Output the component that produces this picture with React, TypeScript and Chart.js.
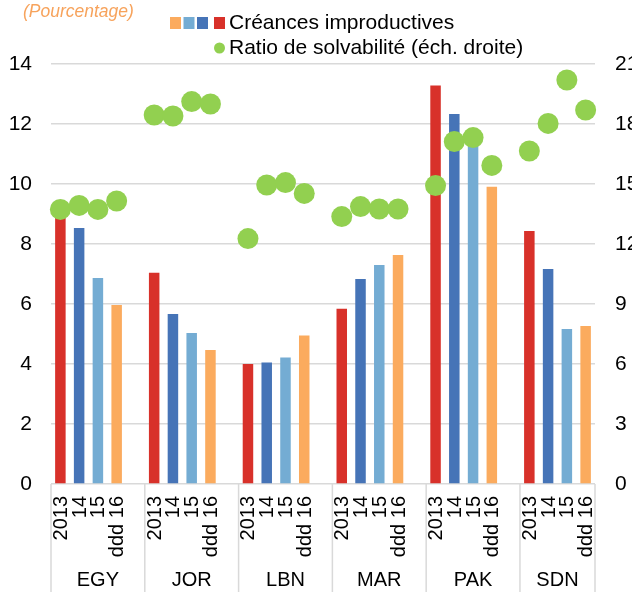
import React, { useEffect, useRef } from "react";
import { Chart, registerables } from "chart.js";

Chart.register(...registerables);

const countries = ["EGY", "JOR", "LBN", "MAR", "PAK", "SDN"];
const yearLabels = ["2013", "14", "15", "ddd 16"];

// Créances improductives (left axis, %)
const npl2013 = [9.1, 7.04, 4.0, 5.84, 13.28, 8.43];
const npl2014 = [8.53, 5.67, 4.05, 6.83, 12.33, 7.17];
const npl2015 = [6.87, 5.03, 4.22, 7.3, 11.4, 5.17];
const npl2016 = [5.97, 4.47, 4.95, 7.63, 9.91, 5.27];

// Ratio de solvabilité (right axis)
const car2013 = [13.73, 18.45, 12.27, 13.37, 14.92, 16.65];
const car2014 = [13.93, 18.4, 14.95, 13.87, 17.12, 18.03];
const car2015 = [13.73, 19.12, 15.07, 13.75, 17.32, 20.2];
const car2016 = [14.15, 19.0, 14.53, 13.75, 15.93, 18.7];

const leftTicks = { min: 0, max: 14, step: 2 };
const rightTicks = { min: 0, max: 21, step: 3 };

const yearColors = ["#D8312A", "#4674B7", "#74ACD3", "#FBAB5E"];
const pointColor = "#92D050";
const gridColor = "#D9D9D9";
const FONT = "'Liberation Sans', Arial, sans-serif";

const nplByYear = [npl2013, npl2014, npl2015, npl2016];
const carByYear = [car2013, car2014, car2015, car2016];

// Build flattened category table: 4 bars per country + a blank slot between groups
type Slot = { country: number; year: number } | null;
const slots: Slot[] = [];
countries.forEach((_, ci) => {
  for (let yi = 0; yi < yearLabels.length; yi++) slots.push({ country: ci, year: yi });
  if (ci < countries.length - 1) slots.push(null);
});
const labels = slots.map((s, i) => (s ? `${countries[s.country]} ${yearLabels[s.year]}` : `gap${i}`));
const barData = slots.map((s) => (s ? nplByYear[s.year][s.country] : null));
const pointData = slots.map((s) => (s ? carByYear[s.year][s.country] : null));
const barColors = slots.map((s) => (s ? yearColors[s.year] : "transparent"));

const decorPlugin = {
  id: "decor",
  afterDraw(chart: any) {
    const ctx = chart.ctx as CanvasRenderingContext2D;
    const x = chart.scales.x;
    const area = chart.chartArea;
    const H = chart.height;
    const step = x.getPixelForValue(1) - x.getPixelForValue(0);
    ctx.save();

    // group separators
    ctx.strokeStyle = gridColor;
    ctx.lineWidth = 1.5;
    const boundaries: number[] = [area.left];
    slots.forEach((s, i) => {
      if (s === null) boundaries.push(x.getPixelForValue(i) + step / 2);
    });
    boundaries.push(area.right);
    boundaries.forEach((bx) => {
      ctx.beginPath();
      ctx.moveTo(bx, area.bottom);
      ctx.lineTo(bx, H);
      ctx.stroke();
    });

    // year labels (rotated)
    ctx.fillStyle = "#000";
    ctx.font = `20px ${FONT}`;
    slots.forEach((s, i) => {
      if (!s) return;
      const px = x.getPixelForValue(i);
      ctx.save();
      ctx.translate(px, area.bottom + 12);
      ctx.rotate(-Math.PI / 2);
      ctx.textAlign = "right";
      ctx.textBaseline = "middle";
      ctx.fillText(yearLabels[s.year], 0, 1);
      ctx.restore();
    });

    // country labels
    ctx.textAlign = "center";
    ctx.textBaseline = "middle";
    countries.forEach((c, ci) => {
      const cx = (boundaries[ci] + boundaries[ci + 1]) / 2;
      ctx.fillText(c, cx, area.bottom + 96);
    });

    // title
    ctx.font = `italic 17.5px ${FONT}`;
    ctx.fillStyle = "#F7A35C";
    ctx.textAlign = "left";
    ctx.fillText("(Pourcentage)", 23, 12);

    // legend
    const sq = [170, 183.5, 197, 214];
    const order = [3, 2, 1, 0];
    order.forEach((yi, k) => {
      ctx.fillStyle = yearColors[yi];
      ctx.fillRect(sq[k], 17, 11, 12);
    });
    ctx.fillStyle = "#000";
    ctx.font = `21px ${FONT}`;
    ctx.textAlign = "left";
    ctx.textBaseline = "middle";
    ctx.fillText("Créances improductives", 229, 23);
    ctx.fillStyle = pointColor;
    ctx.beginPath();
    ctx.arc(219.5, 48, 5.5, 0, Math.PI * 2);
    ctx.fill();
    ctx.fillStyle = "#000";
    ctx.fillText("Ratio de solvabilité (éch. droite)", 229, 48);

    ctx.restore();
  },
};

export default function App() {
  const ref = useRef<HTMLCanvasElement | null>(null);
  useEffect(() => {
    if (!ref.current) return;
    const chart = new Chart(ref.current, {
      type: "bar",
      data: {
        labels,
        datasets: [
          {
            type: "line",
            label: "Ratio de solvabilité (éch. droite)",
            data: pointData,
            yAxisID: "y1",
            showLine: false,
            pointRadius: 10.5,
            pointHoverRadius: 10.5,
            pointBackgroundColor: pointColor,
            pointBorderWidth: 0,
            borderColor: pointColor,
            backgroundColor: pointColor,
            order: 0,
          } as any,
          {
            type: "bar",
            label: "Créances improductives",
            data: barData,
            yAxisID: "y",
            backgroundColor: barColors,
            borderWidth: 0,
            barPercentage: 0.56,
            categoryPercentage: 1,
            order: 1,
          } as any,
        ],
      },
      options: {
        animation: false,
        responsive: false,
        events: [],
        layout: { padding: { top: 64, bottom: 108, left: 0, right: 0 } },
        plugins: { legend: { display: false }, tooltip: { enabled: false }, title: { display: false } },
        scales: {
          x: { display: false, offset: true },
          y: {
            position: "left",
            min: leftTicks.min,
            max: leftTicks.max,
            ticks: { stepSize: leftTicks.step, padding: 19, color: "#000", font: { family: FONT, size: 21 } },
            grid: { color: gridColor, lineWidth: 1.5, drawTicks: false },
            border: { display: false },
            afterFit: (s: any) => {
              s.width = 51;
            },
          },
          y1: {
            position: "right",
            min: rightTicks.min,
            max: rightTicks.max,
            ticks: { stepSize: rightTicks.step, padding: 20, color: "#000", font: { family: FONT, size: 21 } },
            grid: { display: false, drawTicks: false },
            border: { display: false },
            afterFit: (s: any) => {
              s.width = 55;
            },
          },
        },
      } as any,
      plugins: [decorPlugin],
    });
    return () => chart.destroy();
  }, []);

  return (
    <div style={{ position: "fixed", left: 0, top: 0, width: 632, height: 592, overflow: "hidden", background: "#fff" }}>
      <canvas ref={ref} width={650} height={592} style={{ width: 650, height: 592, display: "block" }} />
    </div>
  );
}
